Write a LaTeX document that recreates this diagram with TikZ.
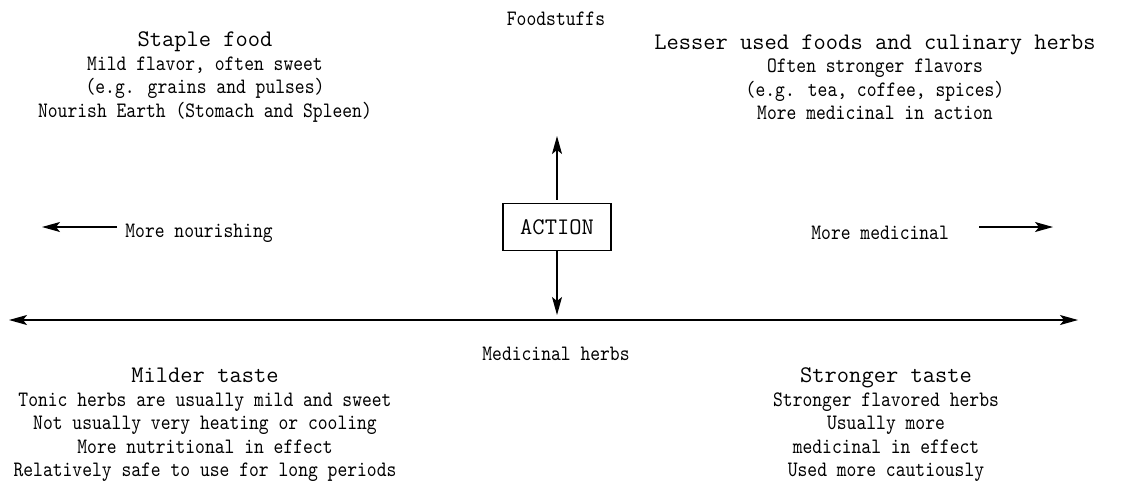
\documentclass[tikz,border=0pt]{standalone}
\usepackage{fontspec}
\usetikzlibrary{arrows.meta}
\newfontfamily\headfont{Latin Modern Mono}
\newfontfamily\bodyfont[FakeStretch=0.85]{Latin Modern Mono}
\newcommand\hd[1]{{\headfont\fontsize{11.9}{11.75}\selectfont #1}}

\begin{document}
\begin{tikzpicture}[
    x=0.5pt, y=-0.5pt,
    txt/.style={align=center, inner sep=0pt,
                font=\bodyfont\fontsize{11}{11.75}\selectfont},
    actbox/.style={draw, line width=0.6pt, minimum width=54pt,
                   minimum height=23.5pt, inner sep=0pt,
                   font=\headfont\fontsize{11.9}{11.75}\selectfont},
    arr/.style={-{Stealth[length=9pt, width=5pt, inset=2pt]}, line width=0.65pt},
    darr/.style={{Stealth[length=9pt, width=5pt, inset=2pt]}-{Stealth[length=9pt, width=5pt, inset=2pt]},
                 line width=0.65pt}
  ]
    \useasboundingbox (0,0) rectangle (1127,484);

    % upper half: foodstuffs
    \node[txt] (food)   at (556,19) {Foodstuffs};
    \node[txt] (staple) at (205,77) {\hd{Staple food}\\Mild flavor, often sweet\\
        (e.g. grains and pulses)\\Nourish Earth (Stomach and Spleen)};
    \node[txt] (lesser) at (875,77) {\hd{Lesser used foods and culinary herbs}\\
        Often stronger flavors\\(e.g. tea, coffee, spices)\\More medicinal in action};

    % middle row
    \node[actbox] (act) at (557,227) {ACTION};
    \node[txt, anchor=west] (nour) at (125,233) {More nourishing};
    \node[txt, anchor=west] (medi) at (811,233) {More medicinal};

    \coordinate (uptip)   at (557,136);
    \coordinate (downtip) at (557,315);
    \coordinate (ltail)   at (117,227);
    \coordinate (ltip)    at (42,227);
    \coordinate (rtail)   at (979,227);
    \coordinate (rtip)    at (1053,227);
    \coordinate (axl)     at (9,320);
    \coordinate (axr)     at (1078,320);

    \draw[arr, shorten <=1.5pt] (act.north) -- (uptip);
    \draw[arr] (act.south) -- (downtip);
    \draw[arr] (ltail) -- (ltip);
    \draw[arr] (rtail) -- (rtip);
    \draw[darr] (axl) -- (axr);

    % lower half: medicinal herbs
    \node[txt] (herbs)    at (556,354) {Medicinal herbs};
    \node[txt] (milder)   at (205,425) {\hd{Milder taste}\\Tonic herbs are usually mild and sweet\\
        Not usually very heating or cooling\\More nutritional in effect\\
        Relatively safe to use for long periods};
    \node[txt] (stronger) at (886,425) {\hd{Stronger taste}\\Stronger flavored herbs\\
        Usually more\\medicinal in effect\\Used more cautiously};
\end{tikzpicture}
\end{document}
